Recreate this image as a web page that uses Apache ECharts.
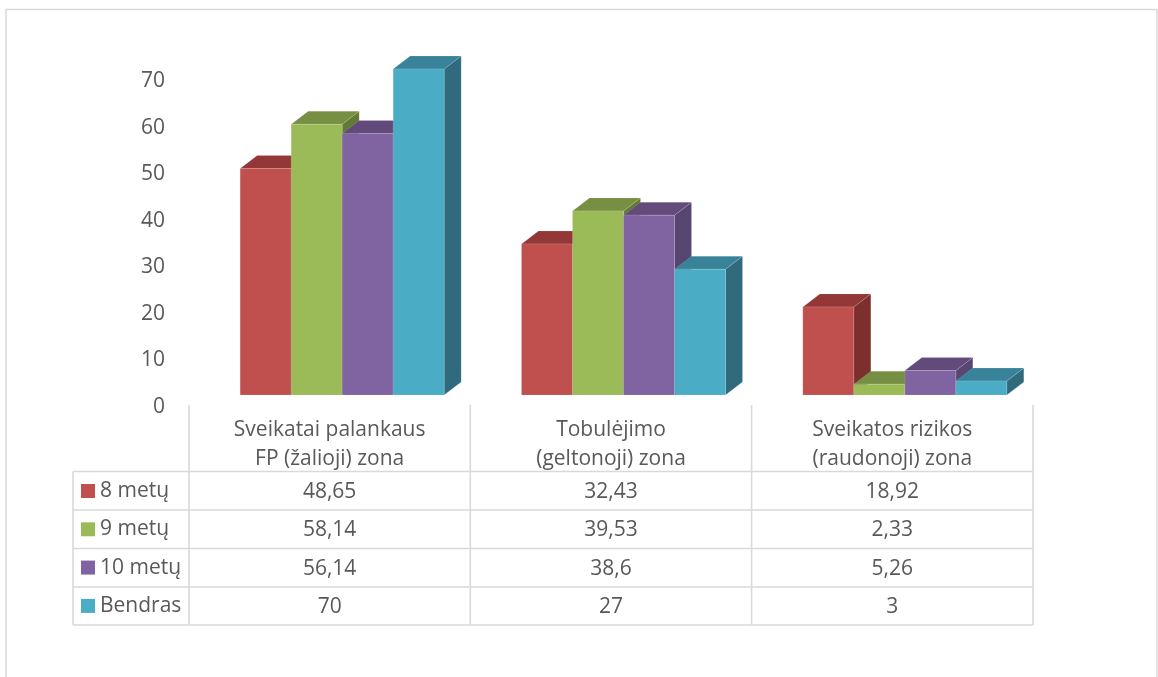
<!DOCTYPE html>
<html>
<head>
<meta charset="utf-8">
<style>
  html, body { margin: 0; padding: 0; background: #fff; }
  #chart { width: 1158px; height: 677px; }
</style>
<script src="https://cdn.jsdelivr.net/npm/echarts@6/dist/echarts.min.js"></script>
</head>
<body>
<div id="chart"></div>
<script>
// duomenys
const categories = ["Sveikatai palankaus\nFP (žalioji) zona", "Tobulėjimo\n(geltonoji) zona", "Sveikatos rizikos\n(raudonoji) zona"];
const seriesNames = ["8 metų", "9 metų", "10 metų", "Bendras"];
const values8 = [48.65, 32.43, 18.92];
const values9 = [58.14, 39.53, 2.33];
const values10 = [56.14, 38.6, 5.26];
const valuesAll = [70, 27, 3];
const allValues = [values8, values9, values10, valuesAll];

const frontColors = ["#c0504d", "#9bbb59", "#8064a2", "#4bacc6"];
const topColors = ["#933836", "#768f42", "#624b7b", "#38829a"];
const sideColors = ["#7c2f2d", "#637a34", "#574572", "#2f6b7c"];

const textColor = "#595959";
const lineColor = "#d9d9d9";
const fontFamily = "'Open Sans', sans-serif";
const fontSize = 21;

// 3D stulpelio parametrai
const barWidth = 51;
const depthX = 17;
const depthY = 13;
const groupShift = 12.5;

// lentelės linijos
const tableLeft = 73, tableRight = 1033, tableTop = 405;
const colX = [189, 470.3, 751.6, 1033];
const rowY = [471.5, 510, 548.5, 587, 625];

function render3dBar(params, api) {
    let s = params.seriesIndex;
    let base = api.coord([api.value(0), 0]);
    let top = api.coord([api.value(0), api.value(1)]);
    let x0 = base[0] + groupShift - barWidth * 2 + s * barWidth;
    let x1 = x0 + barWidth;
    let y0 = base[1];
    let y1 = top[1];
    let edge = { stroke: "rgba(255,255,255,0.12)", lineWidth: 1 };
    return {
        type: "group",
        children: [
            {
                type: "polygon",
                shape: { points: [[x1, y1], [x1 + depthX, y1 - depthY], [x1 + depthX, y0 - depthY], [x1, y0]] },
                style: Object.assign({ fill: sideColors[s] }, edge)
            },
            {
                type: "polygon",
                shape: { points: [[x0, y1], [x0 + depthX, y1 - depthY], [x1 + depthX, y1 - depthY], [x1, y1]] },
                style: Object.assign({ fill: topColors[s] }, edge)
            },
            {
                type: "rect",
                shape: { x: x0, y: y1, width: barWidth, height: y0 - y1 },
                style: Object.assign({ fill: frontColors[s] }, edge)
            }
        ]
    };
}

function makeLine(x1, y1, x2, y2) {
    return {
        type: "line",
        silent: true,
        shape: { x1: x1, y1: y1, x2: x2, y2: y2 },
        style: { stroke: lineColor, lineWidth: 1.6 }
    };
}

function buildGraphic() {
    let items = [];
    // rėmelis
    items.push({
        type: "polyline",
        silent: true,
        shape: { points: [[6, 677], [6, 9.5], [1157, 9.5], [1157, 677]] },
        style: { stroke: lineColor, lineWidth: 1.5, fill: null }
    });
    colX.forEach(function (x) {
        items.push(makeLine(x, tableTop, x, rowY[rowY.length - 1]));
    });
    items.push(makeLine(tableLeft, rowY[0], tableLeft, rowY[rowY.length - 1]));
    rowY.forEach(function (y) {
        items.push(makeLine(tableLeft, y, tableRight, y));
    });
    // lentelės reikšmės
    allValues.forEach(function (row, r) {
        row.forEach(function (v, c) {
            items.push({
                type: "text",
                silent: true,
                style: {
                    x: (colX[c] + colX[c + 1]) / 2,
                    y: (rowY[r] + rowY[r + 1]) / 2 + 1,
                    text: String(v).replace(".", ","),
                    align: "center",
                    verticalAlign: "middle",
                    fill: textColor,
                    font: fontSize + "px " + fontFamily
                }
            });
        });
    });
    return items;
}

const myChart = echarts.init(document.getElementById("chart"));
myChart.setOption({
    animation: false,
    backgroundColor: "#ffffff",
    grid: { left: colX[0], right: 1158 - colX[3], top: 69, bottom: 282 },
    legend: {
        orient: "vertical",
        left: 81,
        top: 480.5,
        padding: 0,
        itemWidth: 14,
        itemHeight: 14,
        itemGap: 17.3,
        selectedMode: false,
        textStyle: { color: textColor, fontFamily: fontFamily, fontSize: fontSize },
        data: seriesNames.map(function (name, i) {
            return { name: name, icon: "rect", itemStyle: { color: frontColors[i] } };
        })
    },
    xAxis: {
        type: "category",
        data: categories,
        axisLine: { show: false },
        axisTick: { show: false },
        splitLine: { show: false },
        axisLabel: {
            color: textColor,
            fontFamily: fontFamily,
            fontSize: fontSize,
            lineHeight: 29,
            margin: 21,
            interval: 0
        }
    },
    yAxis: {
        type: "value",
        min: 0,
        max: 70,
        interval: 10,
        axisLine: { show: false },
        axisTick: { show: false },
        splitLine: { show: false },
        axisLabel: {
            color: textColor,
            fontFamily: fontFamily,
            fontSize: fontSize,
            margin: 24,
            verticalAlign: "top",
            lineHeight: 24
        }
    },
    graphic: buildGraphic(),
    series: seriesNames.map(function (name, i) {
        return {
            name: name,
            type: "custom",
            coordinateSystem: "cartesian2d",
            renderItem: render3dBar,
            itemStyle: { color: frontColors[i] },
            encode: { x: 0, y: 1 },
            data: allValues[i].map(function (v, c) { return [c, v]; })
        };
    })
});
</script>
</body>
</html>
